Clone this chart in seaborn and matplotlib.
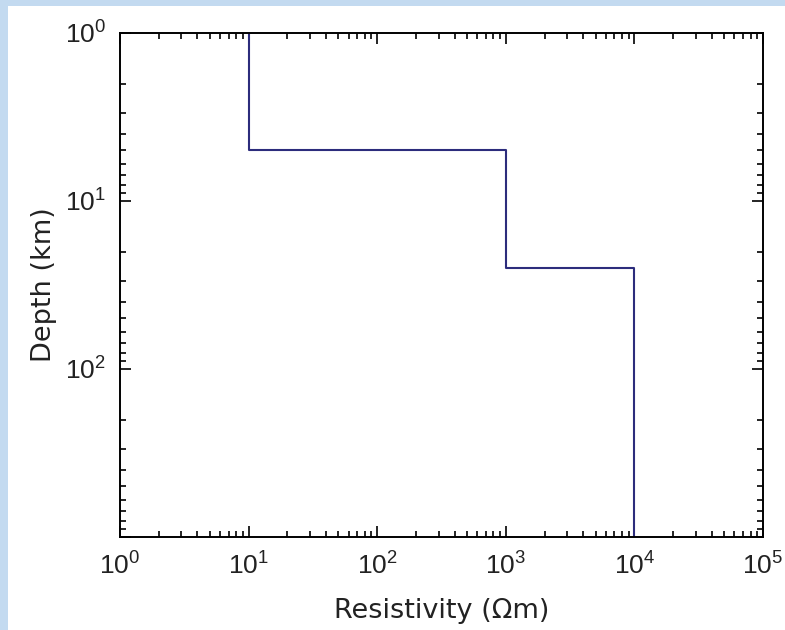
import numpy as np
import pandas as pd
import matplotlib
matplotlib.use("Agg")
import matplotlib.pyplot as plt
from matplotlib.ticker import LogLocator, NullFormatter
import seaborn as sns

# Layered resistivity model: one resistivity per layer, layer boundaries in km
layer_resistivity = [10, 1000, 10000]          # Ohm-m
layer_tops = [1, 5, 25]                         # km
model_bottom = 1000                             # km

x_ticks = [1, 10, 100, 1000, 10000, 100000]
x_tick_labels = ["$10^{0}$", "$10^{1}$", "$10^{2}$", "$10^{3}$", "$10^{4}$", "$10^{5}$"]
y_ticks = [1, 10, 100, 1000]
y_tick_labels = ["$10^{0}$", "$10^{1}$", "$10^{2}$", ""]

# Build the stepped profile from the layer table
bottoms = layer_tops[1:] + [model_bottom]
rows = []
for rho, top, bot in zip(layer_resistivity, layer_tops, bottoms):
    rows.append((rho, top))
    rows.append((rho, bot))
profile = pd.DataFrame(rows, columns=["resistivity", "depth"])

sns.set_theme(style="white")
plt.rcParams["font.family"] = ["DejaVu Sans"]
# power-of-ten tick labels in a Helvetica-like face
plt.rcParams["mathtext.fontset"] = "custom"
plt.rcParams["mathtext.rm"] = "Liberation Sans"
plt.rcParams["mathtext.it"] = "Liberation Sans"
plt.rcParams["mathtext.bf"] = "Liberation Sans"

fig = plt.figure(figsize=(7.85, 6.3), dpi=100)
fig.patch.set_facecolor("#c3daf0")

# white page behind the plot, leaving a thin blue frame at left and top
page = fig.add_axes([8 / 785, 0, 1 - 8 / 785, 1 - 6 / 630], zorder=0)
page.set_facecolor("white")
page.set_xticks([])
page.set_yticks([])
for spine in page.spines.values():
    spine.set_visible(False)

ax = fig.add_axes([120 / 785, 1 - 537 / 630, 643 / 785, 504 / 630], zorder=1)
ax.set_facecolor("white")

sns.lineplot(data=profile, x="resistivity", y="depth", sort=False,
             estimator=None, color="#2c2c7c", linewidth=1.5, ax=ax)

ax.set_xscale("log")
ax.set_yscale("log")
ax.set_xlim(1, 100000)
ax.set_ylim(1000, 1)

ax.set_xticks(x_ticks)
ax.set_xticklabels(x_tick_labels)
ax.set_yticks(y_ticks)
ax.set_yticklabels(y_tick_labels)
ax.xaxis.set_minor_locator(LogLocator(base=10, subs=np.arange(2, 10)))
ax.yaxis.set_minor_locator(LogLocator(base=10, subs=np.arange(2, 10)))
ax.xaxis.set_minor_formatter(NullFormatter())
ax.yaxis.set_minor_formatter(NullFormatter())

ax.tick_params(which="both", direction="in", top=True, right=True,
               bottom=True, left=True, color="black", width=1.2)
ax.tick_params(which="major", length=8, labelsize=19,
               labelcolor="#222222")
ax.tick_params(axis="x", which="major", pad=12)
ax.tick_params(axis="y", which="major", pad=10)
ax.tick_params(which="minor", length=4.5)
for spine in ax.spines.values():
    spine.set_color("black")
    spine.set_linewidth(1.4)

ax.set_xlabel("Resistivity (Ωm)", fontsize=19.5, color="#222222", labelpad=12)
ax.set_ylabel("Depth (km)", fontsize=19.5, color="#222222", labelpad=6)

fig.savefig("out.png", dpi=100, facecolor=fig.get_facecolor())
